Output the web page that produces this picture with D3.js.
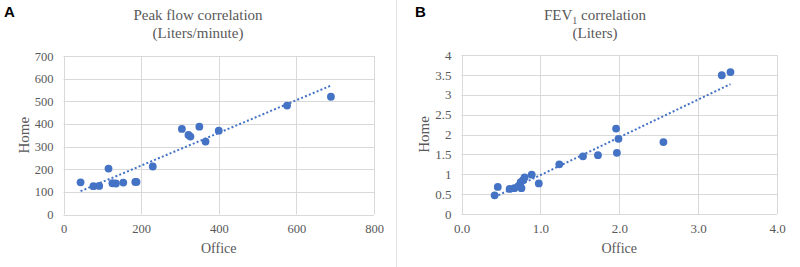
<!DOCTYPE html>
<html><head><meta charset="utf-8">
<script src="https://cdn.jsdelivr.net/npm/d3@7"></script>
<style>html,body{margin:0;padding:0;background:#fff;}svg{display:block;}</style>
</head><body>
<svg id="c" width="800" height="267"></svg>
<script>
// Panel A: Peak flow (Liters/minute)
const peakOffice = [44, 77, 92, 116, 126, 135, 154, 185, 188, 230, 305, 322, 327, 350, 366, 400, 576, 689];
const peakHome   = [142, 125, 126, 203, 138, 137, 141, 144, 144, 212, 378, 351, 344, 388, 322, 370, 481, 520];
const peakXTicks = [0, 200, 400, 600, 800];
const peakYTicks = [0, 100, 200, 300, 400, 500, 600, 700];

// Panel B: FEV1 (Liters)
const fevOffice = [0.42, 0.46, 0.61, 0.67, 0.72, 0.75, 0.76, 0.78, 0.80, 0.89, 0.98, 1.24, 1.54, 1.73, 1.96, 1.99, 1.97, 2.56, 3.30, 3.41];
const fevHome   = [0.47, 0.68, 0.63, 0.65, 0.70, 0.80, 0.65, 0.85, 0.92, 0.99, 0.77, 1.25, 1.45, 1.48, 2.15, 1.89, 1.54, 1.81, 3.49, 3.57];
const fevXTicks = [0, 1, 2, 3, 4];
const fevYTicks = [0, 0.5, 1, 1.5, 2, 2.5, 3, 3.5, 4];

const svg = d3.select("#c");
const BLUE = "#4472C4", GRID = "#d9d9d9", TXT = "#595959";
const serif = "'Liberation Serif','Times New Roman',serif";

// separator
svg.append("line").attr("x1",396.5).attr("x2",396.5).attr("y1",0).attr("y2",267)
  .attr("stroke","#e2e2e2").attr("stroke-width",1);

function linreg(xs, ys){
  const n = xs.length, mx = d3.mean(xs), my = d3.mean(ys);
  let sxy=0, sxx=0;
  for(let i=0;i<n;i++){ sxy += (xs[i]-mx)*(ys[i]-my); sxx += (xs[i]-mx)**2; }
  const b = sxy/sxx; return {b, a: my - b*mx};
}

function panel(o){
  const g = svg.append("g");
  const x = d3.scaleLinear().domain(o.xDomain).range([o.left, o.right]);
  const y = d3.scaleLinear().domain(o.yDomain).range([o.bottom, o.top]);
  g.selectAll(".gy").data(o.yTicks).join("line")
    .attr("x1",o.left).attr("x2",o.right)
    .attr("y1",d=>Math.round(y(d))+0.5).attr("y2",d=>Math.round(y(d))+0.5)
    .attr("stroke",GRID).attr("stroke-width",1);
  g.selectAll(".gx").data(o.xTicks).join("line")
    .attr("y1",o.top).attr("y2",o.bottom)
    .attr("x1",d=>Math.round(x(d))+0.5).attr("x2",d=>Math.round(x(d))+0.5)
    .attr("stroke",GRID).attr("stroke-width",1);
  const ax = g.append("g").attr("transform",`translate(0,${o.bottom})`)
    .call(d3.axisBottom(x).tickValues(o.xTicks).tickFormat(o.xFmt).tickSize(0).tickPadding(10));
  const ay = g.append("g").attr("transform",`translate(${o.left},0)`)
    .call(d3.axisLeft(y).tickValues(o.yTicks).tickFormat(o.yFmt).tickSize(0).tickPadding(10));
  [ax,ay].forEach(a=>{
    a.attr("font-family",serif).attr("font-size",o.tickSize);
    a.select(".domain").remove();
    a.selectAll("text").attr("fill",TXT).style("font-family",serif).style("font-size",o.tickSize+"px");
  });
  const r = linreg(o.xs, o.ys);
  const x0 = d3.min(o.xs), x1 = d3.max(o.xs);
  g.append("line").attr("x1",x(x0)).attr("y1",y(r.a+r.b*x0))
    .attr("x2",x(x1)).attr("y2",y(r.a+r.b*x1))
    .attr("stroke",BLUE).attr("stroke-width",2).attr("stroke-dasharray","2,2.2");
  g.selectAll("circle").data(o.xs.map((v,i)=>[v,o.ys[i]])).join("circle")
    .attr("cx",d=>x(d[0])).attr("cy",d=>y(d[1])).attr("r",3.9).attr("fill",BLUE);
  const t = g.append("text").attr("x",o.tcx).attr("y",20).attr("text-anchor","middle")
    .attr("fill",TXT).style("font-family",serif).style("font-size","15px");
  o.title(t);
  g.append("text").attr("x",o.tcx).attr("y",38).attr("text-anchor","middle")
    .attr("fill",TXT).style("font-family",serif).style("font-size","15px").text(o.sub);
  g.append("text").attr("x",(o.left+o.right)/2).attr("y",253).attr("text-anchor","middle")
    .attr("fill",TXT).style("font-family",serif).style("font-size","14px").text("Office");
  g.append("text").attr("transform",`translate(${o.hx},${(o.top+o.bottom)/2}) rotate(-90)`)
    .attr("text-anchor","middle").attr("dy","0.35em")
    .attr("fill",TXT).style("font-family",serif).style("font-size","15px").text("Home");
  g.append("text").attr("x",o.lx).attr("y",17).attr("fill","#000")
    .style("font-family","'Liberation Sans',Arial,sans-serif").style("font-weight","900")
    .style("font-size","15px").text(o.letter);
}

panel({xs:peakOffice, ys:peakHome, xDomain:[0,800], yDomain:[0,700],
  xTicks:peakXTicks, yTicks:peakYTicks, xFmt:d3.format("d"), yFmt:d3.format("d"),
  left:63.5, right:374, top:56, bottom:214.5, tcx:198, hx:24, lx:4, letter:"A", tickSize:12.5,
  title:t=>t.text("Peak flow correlation"), sub:"(Liters/minute)"});

panel({xs:fevOffice, ys:fevHome, xDomain:[0,4], yDomain:[0,4],
  xTicks:fevXTicks, yTicks:fevYTicks, xFmt:d3.format(".1f"), yFmt:d=>String(d),
  left:461.5, right:777, top:55, bottom:214, tcx:595, hx:424, lx:415, letter:"B", tickSize:13,
  title:t=>{ t.append("tspan").text("FEV");
    t.append("tspan").attr("dy",4).style("font-size","10px").text("1");
    t.append("tspan").attr("dy",-4).text(" correlation"); }, sub:"(Liters)"});
</script>
</body></html>
